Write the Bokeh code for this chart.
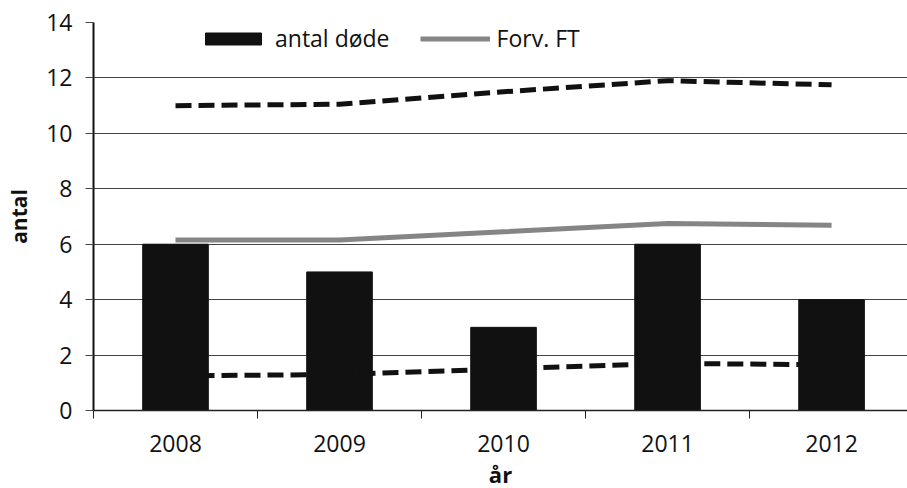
from bokeh.plotting import figure
from bokeh.models import Range1d, FixedTicker, Legend, LegendItem, BoxAnnotation
from bokeh.embed import file_html
from bokeh.resources import INLINE

years = [2008, 2009, 2010, 2011, 2012]
year_labels = ["2008", "2009", "2010", "2011", "2012"]
antal_dode = [6, 5, 3, 6, 4]
forv_ft = [6.15, 6.15, 6.45, 6.75, 6.68]
oevre = [11.0, 11.05, 11.5, 11.9, 11.75]
nedre = [1.25, 1.3, 1.5, 1.7, 1.65]
y_ticks = [0, 2, 4, 6, 8, 10, 12, 14]

FONT = "Open Sans"

p = figure(width=907, height=488, output_backend="svg", toolbar_location=None,
           x_range=Range1d(2007.5, 2012.463), y_range=Range1d(0, 14))
p.frame_width = 814
p.frame_height = 388
p.min_border_top = 22
p.min_border_right = 0
p.min_border_left = 93
p.min_border_bottom = 78
p.outline_line_color = None
p.background_fill_color = "white"

bars = p.vbar(x=years, top=antal_dode, width=0.4, fill_color="#111111", line_color="#111111")
ft = p.line(x=years, y=forv_ft, line_color="#858585", line_width=5)
p.line(x=years, y=oevre, line_color="#111111", line_width=5, line_dash="16 7")
p.line(x=years, y=nedre, line_color="#111111", line_width=5, line_dash="16 7")

# white backing behind the legend, hiding the top gridline there
p.add_layout(BoxAnnotation(left=2007.94, right=2010.63, bottom=13.6, top=14.2,
                           fill_color="white", fill_alpha=1.0, line_color=None))

# axes
xa = p.xaxis[0]
xa.ticker = FixedTicker(ticks=years, minor_ticks=[2007.5, 2008.5, 2009.5, 2010.5, 2011.5])
xa.major_label_overrides = {y: l for y, l in zip(years, year_labels)}
xa.major_tick_line_color = None
xa.major_tick_out = 8
xa.major_tick_in = 0
xa.minor_tick_line_color = "#222222"
xa.minor_tick_out = 8
xa.minor_tick_in = 0
xa.axis_line_color = "#222222"
xa.axis_line_width = 1.5
xa.major_label_standoff = 16
xa.major_label_text_font = FONT
xa.major_label_text_font_size = "23px"
xa.major_label_text_color = "#111111"
xa.axis_label = "år"
xa.axis_label_standoff = 4
xa.axis_label_text_font = FONT
xa.axis_label_text_font_size = "22px"
xa.axis_label_text_font_style = "bold"
xa.axis_label_text_color = "#111111"

ya = p.yaxis[0]
ya.ticker = FixedTicker(ticks=y_ticks)
ya.minor_tick_line_color = None
ya.major_tick_out = 8
ya.major_tick_in = 0
ya.major_tick_line_color = "#444444"
ya.axis_line_color = "#111111"
ya.axis_line_width = 2
ya.major_label_standoff = 13
ya.major_label_text_font = FONT
ya.major_label_text_font_size = "23px"
ya.major_label_text_color = "#111111"
ya.axis_label = "antal"
ya.axis_label_standoff = 10
ya.axis_label_text_font = FONT
ya.axis_label_text_font_size = "21px"
ya.axis_label_text_font_style = "bold"
ya.axis_label_text_color = "#111111"

p.xgrid.grid_line_color = None
p.ygrid.grid_line_color = "#444444"
p.ygrid.grid_line_width = 1

legend = Legend(items=[LegendItem(label="antal døde", renderers=[bars]),
                       LegendItem(label="Forv. FT", renderers=[ft])],
                orientation="horizontal", location=(105, 356))
legend.label_text_font = FONT
legend.label_text_font_size = "23px"
legend.label_text_color = "#111111"
legend.glyph_width = 70
legend.glyph_height = 15
legend.spacing = 30
legend.padding = 0
legend.margin = 0
legend.label_standoff = 7
legend.border_line_color = None
legend.background_fill_color = "white"
legend.background_fill_alpha = 1.0
p.add_layout(legend, "center")

open("out.html", "w").write(file_html(p, INLINE))
